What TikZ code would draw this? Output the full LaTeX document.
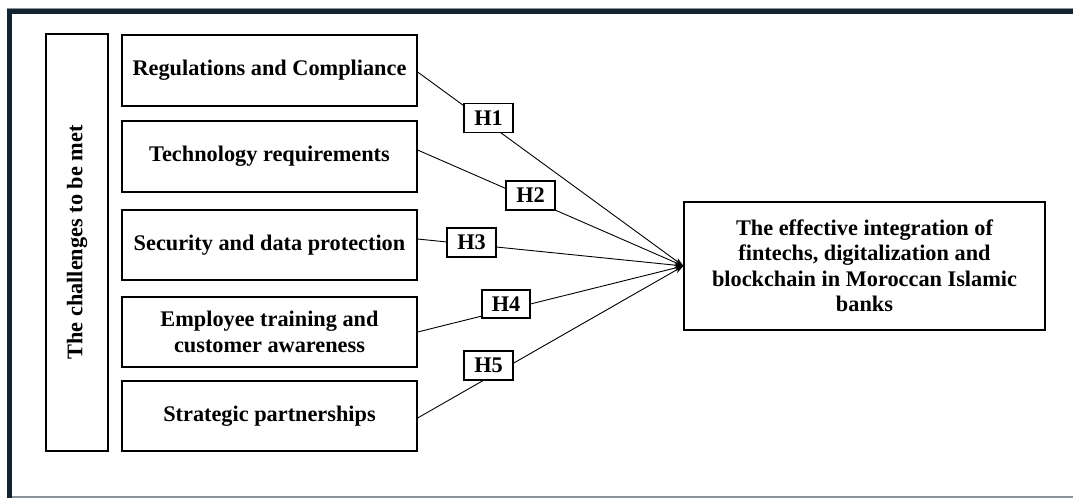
\documentclass[tikz,border=0pt]{standalone}
\usepackage{fontspec}
\setmainfont{Liberation Serif}
\usetikzlibrary{calc,arrows.meta}
\definecolor{framenavy}{HTML}{13232F}
\definecolor{framegrey}{HTML}{8A939A}
\tikzset{
  txt/.style={font=\fontsize{22.3}{25.5}\selectfont\bfseries},
  cbox/.style={txt, draw, line width=1.2pt, inner sep=0pt, align=center, minimum width=295pt},
  hbox/.style={txt, draw, fill=white, line width=1.2pt, inner sep=0pt, minimum width=49pt, minimum height=29pt},
  link/.style={line width=0.9pt, -{Stealth[length=9pt,width=6pt]}}
}
\begin{document}
\begin{tikzpicture}[x=1pt,y=-1pt]
\useasboundingbox (0,0) rectangle (1073,498);
\fill[white] (0,0) rectangle (1073,498);
% window frame
\fill[framegrey] (7,8) rectangle (1073,9);
\fill[framenavy] (7,9) rectangle (1073,14);
\fill[framenavy] (7,9) rectangle (12,498);
\fill[framegrey] (12,496) rectangle (1073,498);
% left vertical box
\node[txt, draw, line width=1.2pt, minimum width=62pt, minimum height=417pt, inner sep=0pt] (L) at (77,242.5) {};
\node[txt, rotate=90] (Ltext) at (77,242.5) {The challenges to be met};
% challenge boxes
\node[cbox, minimum height=71pt] (b1) at (269.5,70.5) {Regulations and Compliance};
\node[cbox, minimum height=71pt] (b2) at (269.5,156.5) {Technology requirements};
\node[cbox, minimum height=70pt] (b3) at (269.5,245) {Security and data protection};
\node[cbox, minimum height=70pt] (b4) at (269.5,332) {Employee training and\\customer awareness};
\node[cbox, minimum height=70pt] (b5) at (269.5,416) {Strategic partnerships};
% outcome box
\node[txt, draw, line width=1.2pt, align=center, inner sep=0pt, minimum width=361pt, minimum height=128pt] (R) at (864.5,266) {The effective integration of\\fintechs, digitalization and\\blockchain in Moroccan Islamic\\banks};
% connectors
\draw[link] ($(b1.east)+(0,1.5)$) -- (R.west);
\draw[link] ($(b2.east)+(0,-6.5)$) -- (R.west);
\draw[link] ($(b3.east)+(0,-6)$) -- (R.west);
\draw[link] (b4.east) -- (R.west);
\draw[link] ($(b5.east)+(0,2)$) -- (R.west);
% hypothesis labels
\node[hbox] (h1) at (488.5,118) {H1};
\node[hbox] (h2) at (530.5,195.5) {H2};
\node[hbox] (h3) at (471.5,242.5) {H3};
\node[hbox, minimum width=48pt, minimum height=28pt] (h4) at (506,304) {H4};
\node[hbox] (h5) at (488.5,365.5) {H5};
\end{tikzpicture}
\end{document}
